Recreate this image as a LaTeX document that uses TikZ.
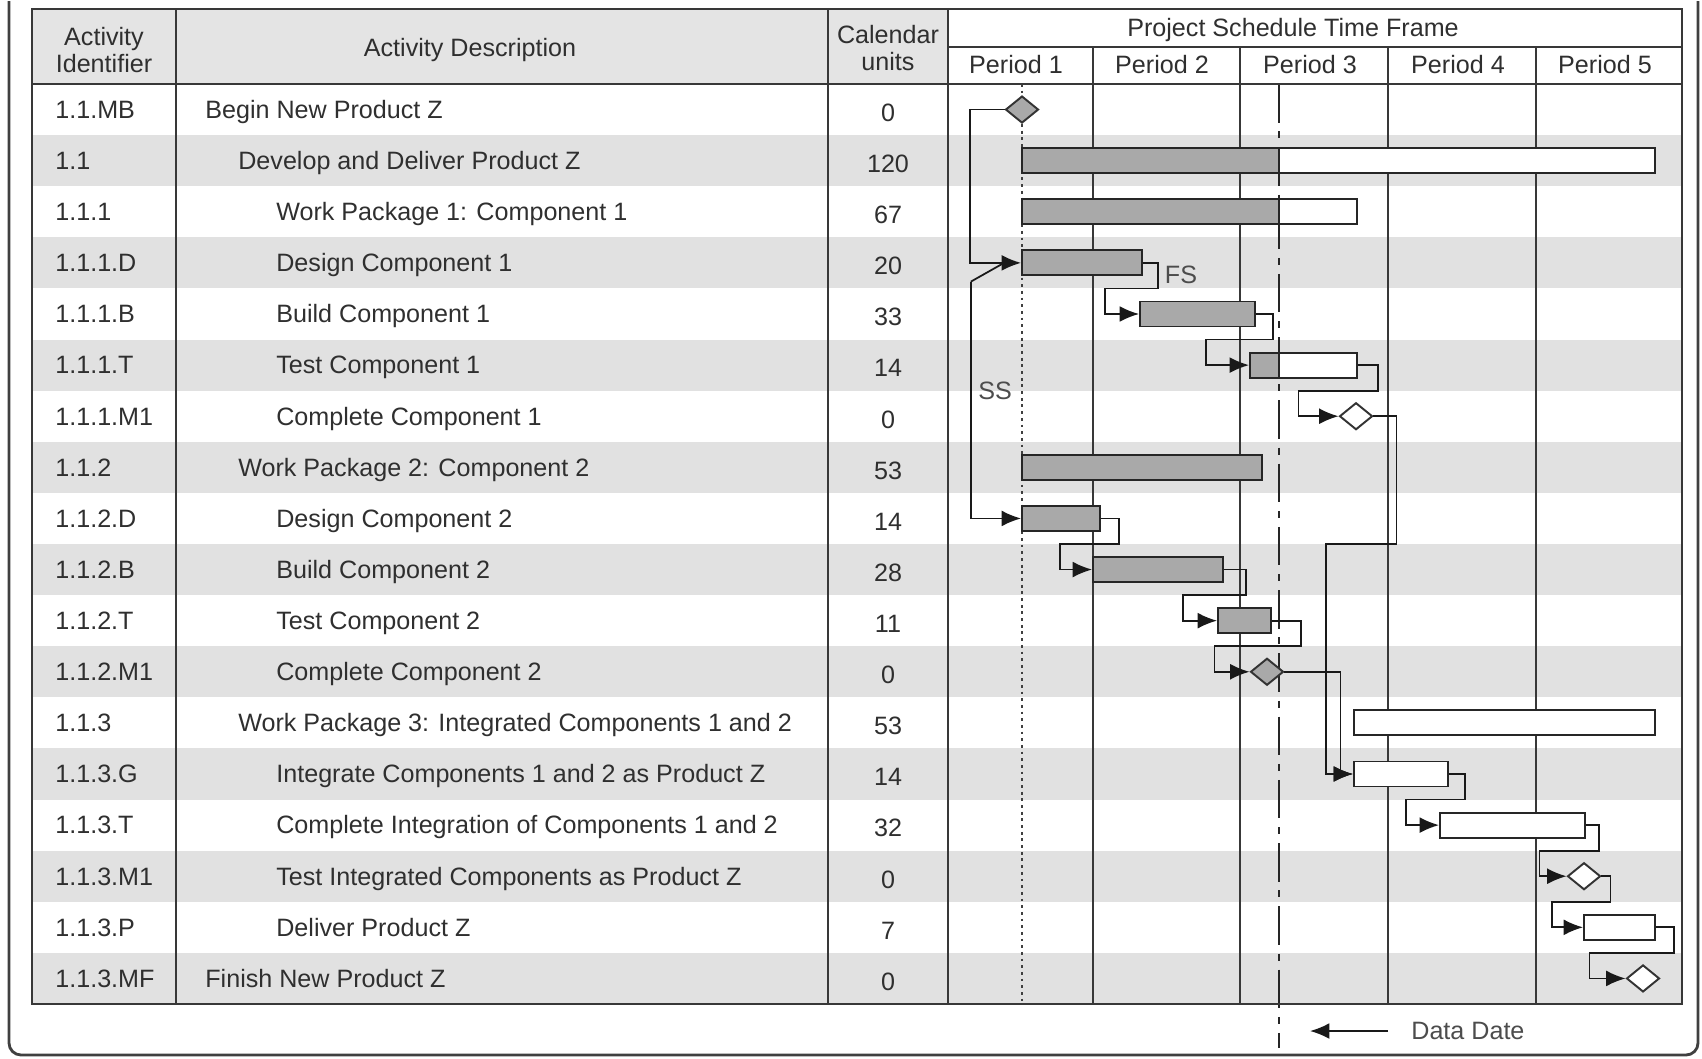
\documentclass[tikz,border=0pt]{standalone}
\usepackage{fontspec}
\setmainfont{Liberation Sans}
\usetikzlibrary{arrows.meta,shapes.geometric,fit,calc}

\definecolor{bandgray}{HTML}{E1E1E1}
\definecolor{headgray}{HTML}{E4E4E4}
\definecolor{bargray}{HTML}{A9A9A9}
\definecolor{inkgray}{HTML}{2F2F2F}
\definecolor{rulegray}{HTML}{383838}

\newcommand{\rowy}[1]{84+51.11*(#1-0.5)}
\newcommand{\ganttbar}[5]{\node (#1) [#2, fit={(#3,{\rowy{#5}-12.5}) (#4,{\rowy{#5}+12.5})}] {};}
\newcommand{\fslink}[4]{\draw[arrowlink] (#1.east) -- ++(#2,0) |- ($(#3.west)+(-#4,-25.56)$) |- (#3.west);}

\tikzset{
  cell/.style={font=\fontsize{14.3}{16}\selectfont, text=inkgray, inner sep=0pt, text height=10pt, text depth=0pt},
  head/.style={font=\fontsize{14.3}{15.5}\selectfont, text=inkgray, align=center, inner sep=0pt},
  tableline/.style={draw=rulegray, line width=1.3pt},
  periodline/.style={draw=rulegray, line width=1.2pt},
  dotline/.style={draw=black!75, line width=1.6pt, dash pattern=on 1.6pt off 2.2pt},
  dateline/.style={draw=black!85, line width=1.2pt, dash pattern=on 22pt off 5pt on 4pt off 5pt},
  donebar/.style={draw=black!85, line width=1.1pt, fill=bargray, inner sep=0pt, rectangle},
  todobar/.style={draw=black!85, line width=1.1pt, fill=white, inner sep=0pt, rectangle},
  halfbar/.style={todobar, path picture={
      \fill[bargray] (path picture bounding box.south west) rectangle (path picture bounding box.north -| ddtop);
      \draw[black!85, line width=1.1pt] (path picture bounding box.north -| ddtop) -- (path picture bounding box.south -| ddtop);}},
  milestone/.style={diamond, draw=black!80, line width=1.1pt, fill=white, inner sep=0pt, minimum width=0.66cm, minimum height=0.54cm},
  arrowlink/.style={draw=black!90, line width=1pt, -{Latex[length=11pt,width=9pt]}},
  plainlink/.style={draw=black!90, line width=1pt}
}

\begin{document}
\begin{tikzpicture}[x=0.02cm, y=-0.02cm]
  \useasboundingbox (0,0) rectangle (1702,1058);

  \fill[headgray] (32,9) rectangle (948,84);
  \foreach \r in {2,4,...,18}
    \fill[bandgray] (32,{84+51.11*(\r-1)}) rectangle (1682,{84+51.11*\r});

  \foreach \x in {1093,1240,1388,1536}
    \draw[periodline] (\x,47) -- (\x,1004);
  \coordinate (ddtop) at (1279,84);
  \coordinate (ddfoot) at (1279,1048);
  \draw[dotline] (1022,84) -- (1022,1004);
  \draw[dateline] (ddtop) -- (ddfoot);

  \draw[tableline] (32,9) rectangle (1682,1004);
  \draw[tableline] (32,84) -- (1682,84) (948,47) -- (1682,47);
  \foreach \x in {176,828,948}
    \draw[tableline] (\x,9) -- (\x,1004);

  \node (hid) [head] at (104,50) {Activity\\Identifier};
  \node (hdesc) [head] at (470,50) {Activity Description};
  \node (hcal) [head] at (888,48) {Calendar\\units};
  \node (htime) [head] at (1293,30) {Project Schedule Time Frame};
  \foreach \p [count=\k] in {1020,1166,1314,1462,1609}
    \node (per\k) [head] at (\p-4,65) {Period \k};

  \foreach \id/\desc/\ind/\units [count=\r] in {
      1.1.MB/Begin New Product Z/205/0,
      1.1/Develop and Deliver Product Z/238/120,
      1.1.1/Work Package 1: Component 1/276/67,
      1.1.1.D/Design Component 1/276/20,
      1.1.1.B/Build Component 1/276/33,
      1.1.1.T/Test Component 1/276/14,
      1.1.1.M1/Complete Component 1/276/0,
      1.1.2/Work Package 2: Component 2/238/53,
      1.1.2.D/Design Component 2/276/14,
      1.1.2.B/Build Component 2/276/28,
      1.1.2.T/Test Component 2/276/11,
      1.1.2.M1/Complete Component 2/276/0,
      1.1.3/Work Package 3: Integrated Components 1 and 2/238/53,
      1.1.3.G/Integrate Components 1 and 2 as Product Z/276/14,
      1.1.3.T/Complete Integration of Components 1 and 2/276/32,
      1.1.3.M1/Test Integrated Components as Product Z/276/0,
      1.1.3.P/Deliver Product Z/276/7,
      1.1.3.MF/Finish New Product Z/205/0}{
    \node (id\r) [cell, anchor=west] at (55,{\rowy{\r}}) {\id};
    \node (ds\r) [cell, anchor=west] at (\ind,{\rowy{\r}}) {\desc};
    \node (cu\r) [cell] at (888,{\rowy{\r}+3}) {\units};
  }

  \ganttbar{b2}{halfbar}{1022}{1655}{2}
  \ganttbar{b3}{halfbar}{1022}{1357}{3}
  \ganttbar{b4}{donebar}{1022}{1142}{4}
  \ganttbar{b5}{donebar}{1140}{1255}{5}
  \ganttbar{b6}{halfbar}{1250}{1357}{6}
  \ganttbar{b8}{donebar}{1022}{1262}{8}
  \ganttbar{b9}{donebar}{1022}{1100}{9}
  \ganttbar{b10}{donebar}{1093}{1223}{10}
  \ganttbar{b11}{donebar}{1218}{1271}{11}
  \ganttbar{b13}{todobar}{1354}{1655}{13}
  \ganttbar{b14}{todobar}{1354}{1448}{14}
  \ganttbar{b15}{todobar}{1440}{1585}{15}
  \ganttbar{b17}{todobar}{1584}{1655}{17}

  \node (d1) [milestone, fill=bargray] at (1022,{\rowy{1}}) {};
  \node (d7) [milestone] at (1356,{\rowy{7}}) {};
  \node (d12) [milestone, fill=bargray] at (1267,{\rowy{12}}) {};
  \node (d16) [milestone] at (1584,{\rowy{16}}) {};
  \node (d18) [milestone] at (1643,{\rowy{18}}) {};

  \draw[arrowlink] (d1.west) -- ++(-34.3,0) |- (b4.west);
  \coordinate (ssfoot) at ($(b4.west)+(-50.3,18.8)$);
  \draw[arrowlink] (ssfoot) |- (b9.west);
  \draw[plainlink] (ssfoot) -- ($(b4.west)+(-17,0)$);
  \node (ss) [cell, text=black!70] at (995,391) {SS};
  \node (fs) [cell, text=black!70] at (1181,275) {FS};

  \fslink{b4}{15}{b5}{34}
  \fslink{b5}{17}{b6}{43}
  \fslink{b6}{20}{d7}{40}
  \fslink{b9}{18}{b10}{32}
  \fslink{b10}{22}{b11}{34}
  \fslink{b11}{29}{d12}{35}
  \fslink{b14}{16}{b15}{33}
  \fslink{b15}{13}{d16}{27}
  \fslink{d16}{9}{b17}{31}
  \fslink{b17}{18}{d18}{36}
  \draw[arrowlink] (d7.east) -- ++(23,0) |- ($(b14.west)+(-27,-230)$) |- (b14.west);
  \draw[arrowlink] (d12.east) -- ++(56,0) |- (b14.west);

  \node (ddlabel) [cell, text=black!70, anchor=west] at (1411,1031) {Data Date};
  \coordinate (ddtip) at (1310,1031);
  \draw[arrowlink] (ddlabel.west) ++(-23,0) -- (ddtip);

  \draw[draw=black!75, line width=1.6pt, rounded corners=0.24cm] (9,1) -- (9,1055) -- (1698,1055) -- (1698,1);
\end{tikzpicture}
\end{document}
